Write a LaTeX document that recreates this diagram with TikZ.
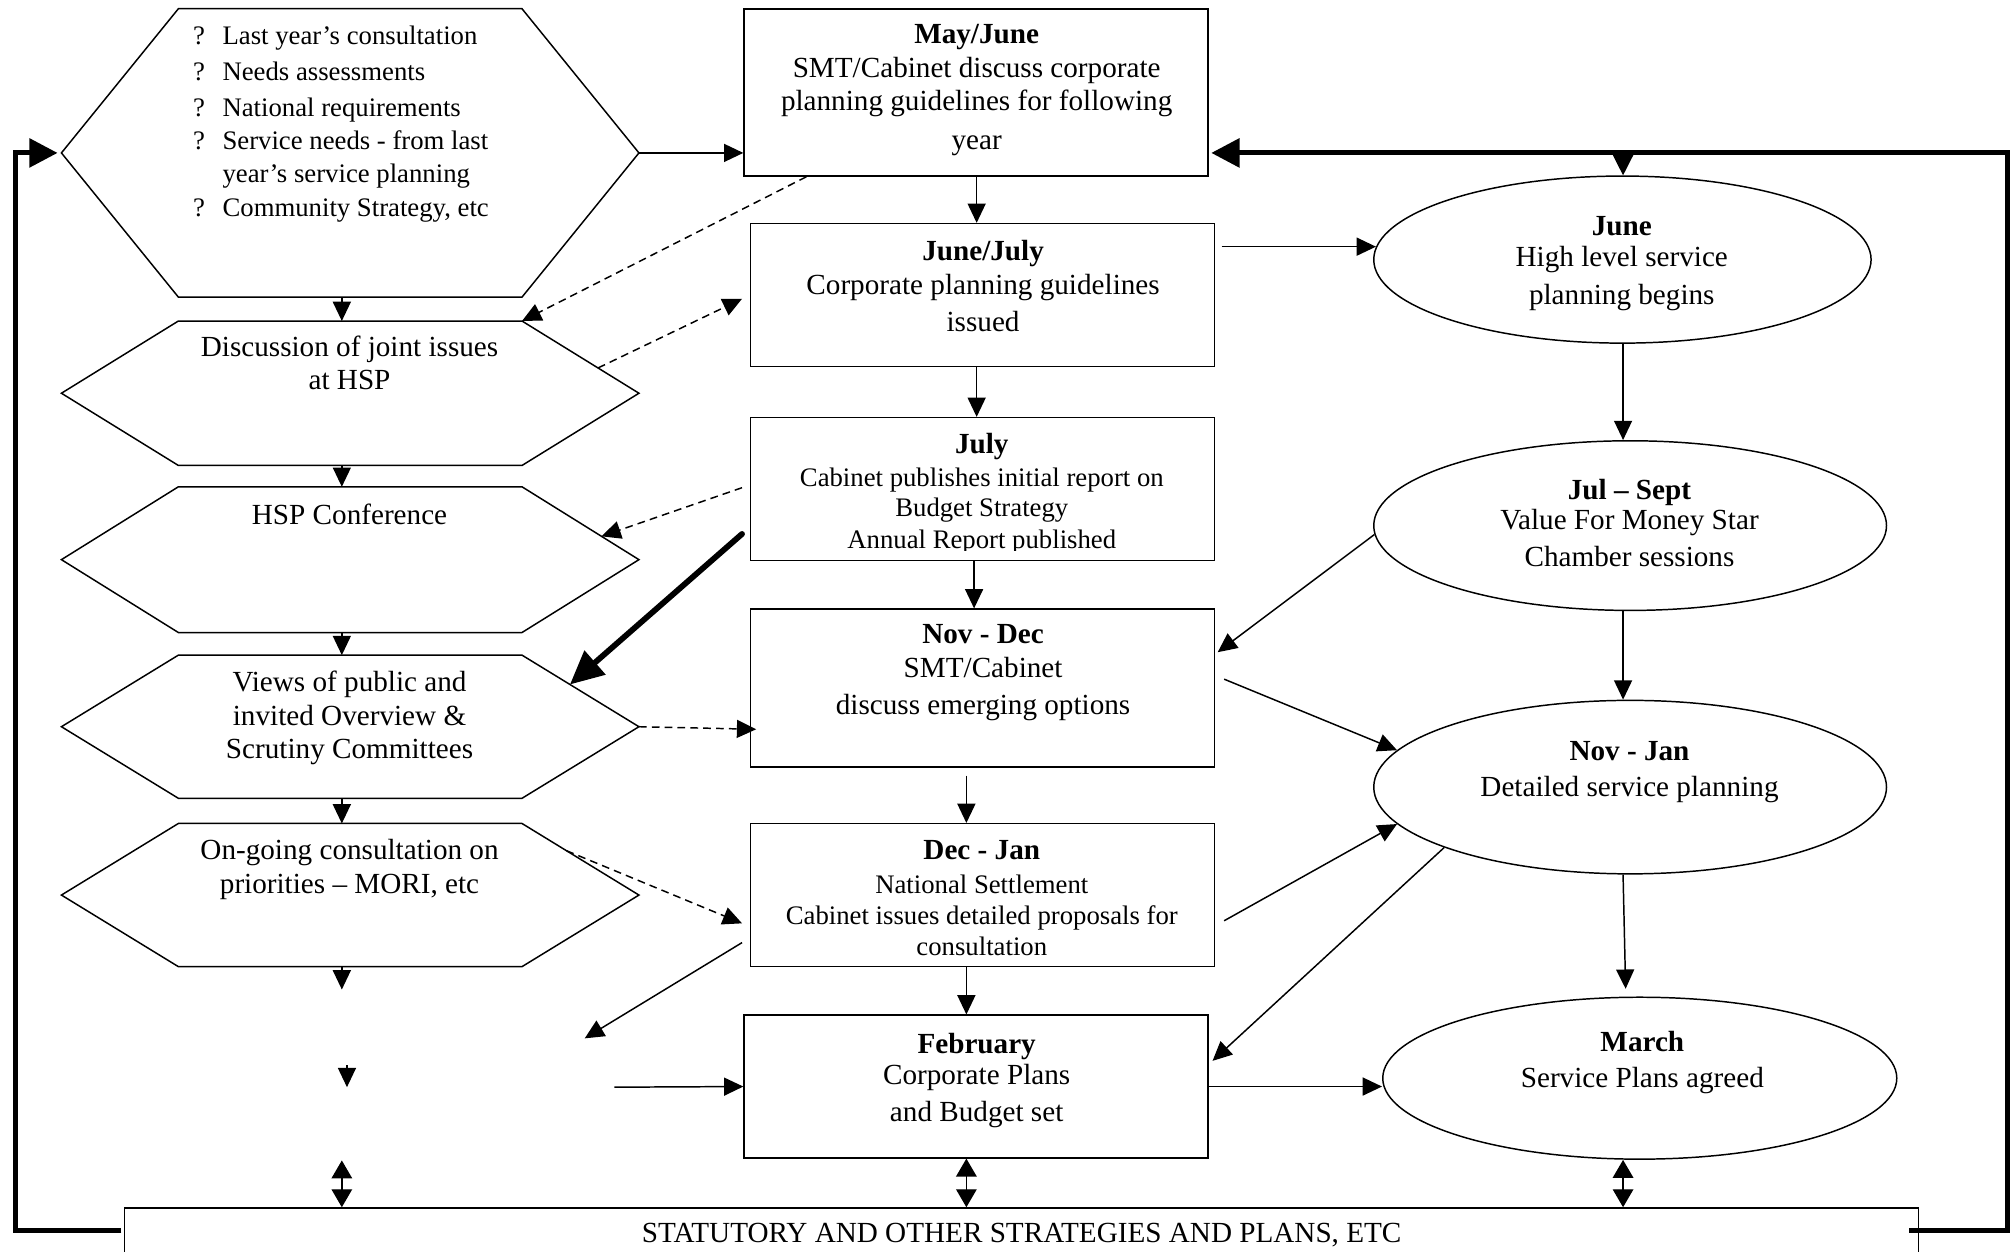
\documentclass[tikz,border=0pt]{standalone}
\usepackage{fontspec}
\setmainfont{Liberation Serif}
\usetikzlibrary{arrows.meta,calc,shapes.geometric}
\newcommand\mainsz{\fontsize{22.7pt}{26pt}\selectfont}
\newcommand\smallsz{\fontsize{20.8pt}{24pt}\selectfont}
\newcommand\drawhex[1]{%
  \coordinate (#1-tl) at ($(#1.north west)+(91,0)$);
  \coordinate (#1-tr) at ($(#1.north east)+(-91,0)$);
  \coordinate (#1-bl) at ($(#1.south west)+(91,0)$);
  \coordinate (#1-br) at ($(#1.south east)+(-91,0)$);
  \draw[hexline] (#1.west) -- (#1-tl) -- (#1-tr) -- (#1.east) -- (#1-br) -- (#1-bl) -- cycle;}
\begin{document}
\begin{tikzpicture}[x=1pt,y=-1pt,
  frame/.style={draw, line width=1.15pt, rectangle, inner sep=0pt},
  ell/.style={draw, line width=1.15pt, ellipse, inner sep=0pt},
  ghost/.style={rectangle, inner sep=0pt, draw=none},
  hexline/.style={line width=1.15pt},
  txt/.style={anchor=north, align=center, inner sep=0pt, font=\mainsz},
  stxt/.style={anchor=north, align=center, inner sep=0pt, font=\smallsz},
  arr/.style={line width=1.15pt, -{Triangle[length=15pt,width=14pt]}},
  darr/.style={line width=1.15pt, {Triangle[length=14pt,width=16pt]}-{Triangle[length=14pt,width=16pt]}},
  dsharr/.style={arr, dash pattern=on 6pt off 4pt},
  fbarr/.style={line width=4pt, -{Triangle[length=22pt,width=22pt]}},
  bigarr/.style={line width=4.5pt, line cap=round, -{Triangle[length=26pt,width=24pt]}},
  downhead/.style={line width=1.15pt, -{Triangle[length=18pt,width=18pt]}}
]
\useasboundingbox (0,0) rectangle (1568,974);

% ---------- centre boxes ----------
\node[frame, minimum width=361pt, minimum height=130pt] (b1) at (759.5,72) {};
\node[frame, minimum width=361pt, minimum height=111pt] (b2) at (764.5,229.5) {};
\node[frame, minimum width=361pt, minimum height=111pt] (b3) at (764.5,380.5) {};
\node[frame, minimum width=361pt, minimum height=123pt] (b4) at (764.5,535.5) {};
\node[frame, minimum width=361pt, minimum height=111pt] (b5) at (764.5,696.5) {};
\node[frame, minimum width=361pt, minimum height=111pt] (b6) at (759.5,845.5) {};

\node[txt] (tb1) at (760,19) {\textbf{May/June}\\SMT/Cabinet discuss corporate\\planning guidelines for following\\[4pt]year};
\node[txt] (tb2) at (765,187) {\textbf{June/July}\\Corporate planning guidelines\\[3pt]issued};
\node[txt] (tb3h) at (764,337) {\textbf{July}};
\begin{scope}
  \clip (b3.north west) rectangle ($(b3.south east)+(0,-8)$);
  \node[stxt] (tb3b) at (764,364) {Cabinet publishes initial report on\\[-1pt]Budget Strategy\\[1pt]Annual Report published};
\end{scope}
\node[txt] (tb4) at (765,486) {\textbf{Nov - Dec}\\SMT/Cabinet\\[3pt]discuss emerging options};
\node[txt] (tb5h) at (764,654) {\textbf{Dec - Jan}};
\node[stxt] (tb5b) at (764,681) {National Settlement\\Cabinet issues detailed proposals for\\consultation};
\node[txt] (tb6) at (760,804) {\textbf{February}\\[-2pt]Corporate Plans\\[3pt]and Budget set};

% ---------- ellipses ----------
\node[ell, minimum width=387pt, minimum height=130pt] (e1) at (1262.5,202) {};
\node[ell, minimum width=399pt, minimum height=132pt] (e2) at (1268.5,409) {};
\node[ell, minimum width=399pt, minimum height=135pt] (e3) at (1268.5,612.5) {};
\node[ell, minimum width=400pt, minimum height=126pt] (e4) at (1276,839) {};

\node[txt] (te1) at (1262,168) {\textbf{June}\\[-2pt]High level service\\[4pt]planning begins};
\node[txt] (te2) at (1268,373) {\textbf{Jul – Sept}\\[-3pt]Value For Money Star\\[3pt]Chamber sessions};
\node[txt] (te3) at (1268,577) {\textbf{Nov - Jan}\\[2pt]Detailed service planning};
\node[txt] (te4) at (1278,802) {\textbf{March}\\[2pt]Service Plans agreed};

% ---------- hexagons ----------
\node[ghost, minimum width=449pt, minimum height=224pt] (h1) at (272.5,119) {};
\node[ghost, minimum width=449pt, minimum height=112pt] (h2) at (272.5,306) {};
\node[ghost, minimum width=449pt, minimum height=113pt] (h3) at (272.5,435.5) {};
\node[ghost, minimum width=449pt, minimum height=111pt] (h4) at (272.5,565.5) {};
\node[ghost, minimum width=449pt, minimum height=111pt] (h5) at (272.5,696.5) {};
\drawhex{h1}\drawhex{h2}\drawhex{h3}\drawhex{h4}\drawhex{h5}

\node[anchor=north west, align=left, inner sep=0pt, font=\fontsize{20.8pt}{26pt}\selectfont] (th1) at (150,20)
 {\makebox[23pt][l]{?}Last year’s consultation\\[2pt]
  \makebox[23pt][l]{?}Needs assessments\\[2pt]
  \makebox[23pt][l]{?}National requirements\\
  \makebox[23pt][l]{?}Service needs - from last\\[-1pt]
  \hspace*{23pt}year’s service planning\\[1pt]
  \makebox[23pt][l]{?}Community Strategy, etc};
\node[txt] (th2) at (272,261) {Discussion of joint issues\\at HSP};
\node[txt] (th3) at (272,392) {HSP Conference};
\node[txt] (th4) at (272,522) {Views of public and\\invited Overview \&\\Scrutiny Committees};
\node[txt] (th5) at (272,653) {On-going consultation on\\priorities – MORI, etc};

% ---------- bottom box ----------
\node[frame, minimum width=1396pt, minimum height=70pt] (bot) at (795,975) {};
\node[inner sep=0pt, anchor=north, font=\mainsz] (tbot) at (795,952) {STATUTORY AND OTHER STRATEGIES AND PLANS, ETC};

% ---------- helper coordinates ----------
\coordinate (hcol) at (266,0);
\coordinate (ccol) at (760,0);
\coordinate (ccol2) at (752,0);
\coordinate (ecol) at (1263,0);
\coordinate (lcol) at (12,0);
\coordinate (rcol) at (1562,0);
\coordinate (h5end) at (266,770);
\coordinate (lone1) at (270,829);
\coordinate (lone2) at (270,846);
\coordinate (lone3) at (478,846);
\coordinate (b5tip) at (455,808);
\coordinate (botup) at (266,903);

% ---------- left column arrows ----------
\draw[arr] (h1.east) -- (h1.east -| b1.west);
\draw[arr] (hcol |- h1.south) -- (hcol |- h2.north);
\draw[arr] (hcol |- h2.south) -- (hcol |- h3.north);
\draw[arr] (hcol |- h3.south) -- (hcol |- h4.north);
\draw[arr] (hcol |- h4.south) -- (hcol |- h5.north);
\draw[arr] (hcol |- h5.south) -- (h5end);
\draw[arr] (lone1) -- (lone2);
\draw[darr] (botup) -- (hcol |- bot.north);

% ---------- centre column arrows ----------
\draw[arr] (ccol |- b1.south) -- (ccol |- b2.north);
\draw[arr] (ccol |- b2.south) -- (ccol |- b3.north);
\draw[arr] ($(ccol |- b3.south)+(-2,0)$) -- ($(ccol |- b4.north)+(-2,0)$);
\draw[arr] ($(ccol2 |- b4.south)+(0,6)$) -- (ccol2 |- b5.north);
\draw[arr] (ccol2 |- b5.south) -- (ccol2 |- b6.north);
\draw[darr] (ccol2 |- b6.south) -- (ccol2 |- bot.north);

% ---------- right column arrows ----------
\draw[arr] ($(b2.east |- e1.177)+(5,0)$) -- (e1.177);
\draw[arr] (ecol |- e1.south) -- (ecol |- e2.north);
\draw[arr] (ecol |- e2.south) -- (ecol |- e3.north);
\draw[arr] (ecol |- e3.south) -- ($(ecol |- e4.north)+(2,-6)$);
\draw[darr] (ecol |- e4.south) -- (ecol |- bot.north);

% ---------- cross arrows ----------
\draw[arr] (e2.182) -- ([shift={(2,-28)}]b4.east);
\draw[arr] ([shift={(7,-7)}]b4.east) -- (e3.171);
\draw[arr] ([shift={(7,20)}]b5.east) -- (e3.189);
\draw[arr] (e3.198) -- ([shift={(3,-20)}]b6.east);
\draw[arr] (b6.east) -- (e4.west |- b6.east);
\draw[bigarr] ([shift={(-6,35)}]b3.west) -- ($(h4-tr)!0.41!(h4.east)$);
\draw[arr] ([shift={(-6,37)}]b5.west) -- (b5tip);
\draw[arr] (lone3) -- (b6.west);

% ---------- dashed arrows ----------
\draw[dsharr] ([xshift=49pt]b1.south west) -- (h2-tr);
\draw[dsharr] ($(h2-tr)!0.65!(h2.east)$) -- ([shift={(-6,3)}]b2.west);
\draw[dsharr] ([shift={(-6,-1)}]b3.west) -- ($(h3-tr)!0.68!(h3.east)$);
\draw[dsharr] (h4.east) -- ($(b4.west |- h4.east)+(5,2)$);
\draw[dsharr] ($(h5-tr)!0.38!(h5.east)$) -- ([shift={(-6,22)}]b5.west);

% ---------- feedback loops ----------
\draw[fbarr] ($(bot.north west)+(-2,18)$) -| (lcol |- h1.west) -- ($(h1.west)+(-3,0)$);
\draw[fbarr] ($(bot.north east)+(-8,18)$) -| (rcol |- h1.east) -- ($(b1.east |- h1.east)+(2,0)$);
\draw[downhead] (ecol |- h1.east) -- (e1.north -| ecol);

\end{tikzpicture}
\end{document}
